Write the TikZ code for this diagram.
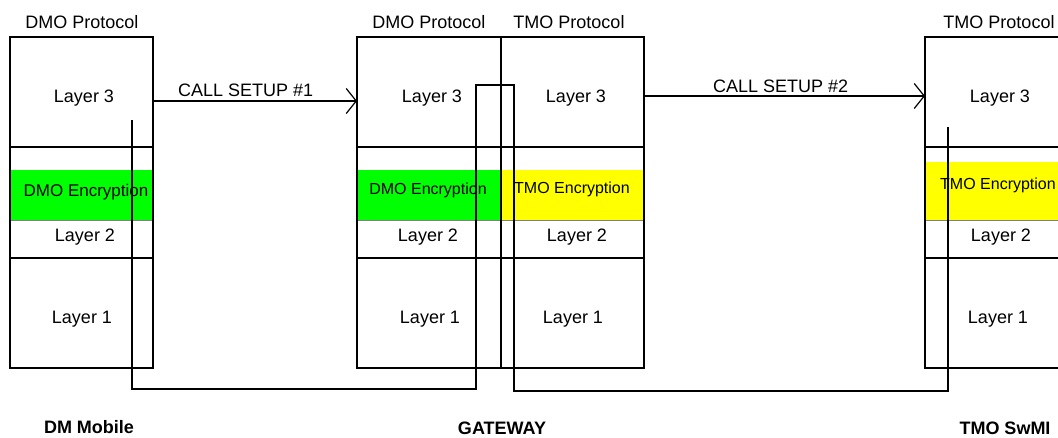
\documentclass[tikz,border=0pt]{standalone}
\usepackage{fontspec}
\setmainfont{Liberation Sans}
\usetikzlibrary{arrows.meta}
\definecolor{dmogreen}{RGB}{0,255,0}
\definecolor{tmoyellow}{RGB}{255,255,0}
\begin{document}
\begin{tikzpicture}[x=1pt,y=-1pt,
  box/.style={draw, line width=1.5pt, inner sep=0pt, outer sep=0pt, anchor=north west},
  lbl/.style={font=\fontsize{18}{20}\selectfont, anchor=base, inner sep=0pt},
  enc/.style={font=\fontsize{16}{18}\selectfont, anchor=base, inner sep=0pt},
  ttl/.style={font=\bfseries\fontsize{18}{20}\selectfont, anchor=base, inner sep=0pt},
  conn/.style={line width=1.5pt},
  msg/.style={line width=1.2pt, -{Straight Barb[length=10pt,width=25pt,line width=1.2pt]}},
  sepline/.style={line width=2.8pt},
  bandline/.style={line width=0.6pt, draw=gray},
]
\useasboundingbox (0,0) rectangle (1058,437);
\clip (0,0) rectangle (1058,437);

% encryption bands
\fill[dmogreen] (10,170) rectangle (153,220);
\draw[bandline] (10,220) -- (153,220);
\fill[dmogreen] (357,170) rectangle (501,220);
\fill[tmoyellow] (501,170) rectangle (644,220);
\draw[bandline] (357,220) -- (644,220);
\fill[tmoyellow] (925,162) rectangle (1075,220);
\draw[bandline] (925,220) -- (1075,220);

% DM Mobile stack
\node[box, minimum width=143pt, minimum height=110pt] (mL3) at (10,37) {};
\node[box, minimum width=143pt, minimum height=111pt] (mL2) at (10,147) {};
\node[box, minimum width=143pt, minimum height=110pt] (mL1) at (10,258) {};
\draw[sepline] (mL3.south west) -- (mL3.south east);

% Gateway DMO stack
\node[box, minimum width=144pt, minimum height=110pt] (gDL3) at (357,37) {};
\node[box, minimum width=144pt, minimum height=111pt] (gDL2) at (357,147) {};
\node[box, minimum width=144pt, minimum height=110pt] (gDL1) at (357,258) {};
% Gateway TMO stack
\node[box, minimum width=143pt, minimum height=110pt] (gTL3) at (501,37) {};
\node[box, minimum width=143pt, minimum height=111pt] (gTL2) at (501,147) {};
\node[box, minimum width=143pt, minimum height=110pt] (gTL1) at (501,258) {};
\draw[sepline] (gDL3.south west) -- (gTL3.south east);
\draw[sepline] (gDL3.north east) -- (gDL1.south east);

% TMO SwMI stack
\node[box, minimum width=150pt, minimum height=110pt] (sL3) at (925,37) {};
\node[box, minimum width=150pt, minimum height=111pt] (sL2) at (925,147) {};
\node[box, minimum width=150pt, minimum height=110pt] (sL1) at (925,258) {};
\draw[sepline] (sL3.south west) -- (sL3.south east);

% protocol titles
\node[lbl] (tp1) at (82,28) {DMO Protocol};
\node[lbl] (tp2) at (429,28) {DMO Protocol};
\node[lbl] (tp3) at (569,28) {TMO Protocol};
\node[lbl] (tp4) at (999,28) {TMO Protocol};

% layer labels
\node[lbl] (m3) at (84,102) {Layer 3};
\node[enc, font=\fontsize{17}{19}\selectfont] (me) at (86,196) {DMO Encryption};
\node[lbl] (m2) at (85,241) {Layer 2};
\node[lbl] (m1) at (82,323) {Layer 1};

\node[lbl] (gd3) at (432,102) {Layer 3};
\node[enc] (gde) at (428,194) {DMO Encryption};
\node[lbl] (gd2) at (428,241) {Layer 2};
\node[lbl] (gd1) at (430,323) {Layer 1};

\node[lbl] (gt3) at (576,102) {Layer 3};
\node[enc] (gte) at (572,193) {TMO Encryption};
\node[lbl] (gt2) at (577,241) {Layer 2};
\node[lbl] (gt1) at (573,323) {Layer 1};

\node[lbl] (s3) at (1000,102) {Layer 3};
\node[enc] (se) at (998,189) {TMO Encryption};
\node[lbl] (s2) at (1001,241) {Layer 2};
\node[lbl] (s1) at (998,323) {Layer 1};

% call setup messages
\draw[msg] ([yshift=-9pt]mL3.east) -- ([yshift=-9pt]gDL3.west);
\node[lbl, anchor=base west] (cs1) at (178,96) {CALL SETUP \#1};
\draw[msg] ([yshift=-4pt]gTL3.east) -- ([yshift=-4pt]sL3.west);
\node[lbl, anchor=base west] (cs2) at (713,92) {CALL SETUP \#2};

% bearer path
\coordinate (lp1) at (132,120);
\coordinate (lp2) at (132,389);
\coordinate (lp3) at (476,389);
\coordinate (lp4) at (476,85);
\coordinate (lp5) at (514,85);
\coordinate (lp6) at (514,391);
\coordinate (lp7) at (948,391);
\coordinate (lp8) at (948,127);
\draw[conn] (lp1) -- (lp2) -- (lp3) -- (lp4) -- (lp5) -- (lp6) -- (lp7) -- (lp8);

% entity titles
\node[ttl] (e1) at (89,433) {DM Mobile};
\node[ttl] (e2) at (502,434) {GATEWAY};
\node[ttl] (e3) at (1005,434) {TMO SwMI};
\end{tikzpicture}
\end{document}
